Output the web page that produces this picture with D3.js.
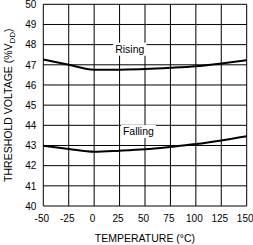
<!DOCTYPE html>
<html>
<head>
<meta charset="utf-8">
<script src="https://cdn.jsdelivr.net/npm/d3@7"></script>
<style>
  body { margin: 0; background: #fff; }
  svg { display: block; font-family: "Liberation Sans", Arial, sans-serif; }
  .tick text { font-size: 10px; fill: #000; }
  .lbl { font-size: 10.5px; fill: #000; }
</style>
</head>
<body>
<div id="chart"></div>
<script>
var temps = [-50, -25, 0, 25, 50, 75, 100, 125, 150];
var rising = [47.26, 47.0, 46.75, 46.76, 46.79, 46.85, 46.93, 47.07, 47.23];
var falling = [42.99, 42.83, 42.69, 42.74, 42.81, 42.93, 43.07, 43.25, 43.46];
var xTicks = [-50, -25, 0, 25, 50, 75, 100, 125, 150];
var yTicks = [40, 41, 42, 43, 44, 45, 46, 47, 48, 49, 50];
var labels = [
  { text: "Rising", t: 35, v: 47.6 },
  { text: "Falling", t: 43.5, v: 43.52 }
];

var width = 253, height = 245;
var margin = { top: 4.3, right: 6.3, bottom: 39, left: 43.3 };
var w = width - margin.left - margin.right;
var h = height - margin.top - margin.bottom;

var svg = d3.select("#chart").append("svg")
    .attr("width", width)
    .attr("height", height);

var g = svg.append("g")
    .attr("transform", "translate(" + margin.left + "," + margin.top + ")");

var x = d3.scaleLinear().domain([-50, 150]).range([0, w]);
var y = d3.scaleLinear().domain([40, 50]).range([h, 0]);

// grid
g.append("g").selectAll("line")
  .data(xTicks)
  .enter().append("line")
    .attr("x1", function(d) { return x(d); })
    .attr("x2", function(d) { return x(d); })
    .attr("y1", 0).attr("y2", h)
    .attr("stroke", "#000").attr("stroke-width", 1);

g.append("g").selectAll("line")
  .data(yTicks)
  .enter().append("line")
    .attr("x1", 0).attr("x2", w)
    .attr("y1", function(d) { return y(d); })
    .attr("y2", function(d) { return y(d); })
    .attr("stroke", "#000").attr("stroke-width", 1);

// axes (labels only), plain hyphen for negatives
var fmt = function(d) { return String(d); };

var xAxis = g.append("g")
    .attr("transform", "translate(0," + h + ")")
    .call(d3.axisBottom(x).tickValues(xTicks).tickSize(0).tickPadding(9).tickFormat(fmt));
xAxis.select(".domain").remove();
xAxis.selectAll(".tick text").attr("dx", -2);

var yAxis = g.append("g")
    .call(d3.axisLeft(y).tickValues(yTicks).tickSize(0).tickPadding(7).tickFormat(fmt));
yAxis.select(".domain").remove();

// curves
var line = d3.line()
    .x(function(d) { return x(d[0]); })
    .y(function(d) { return y(d[1]); })
    .curve(d3.curveMonotoneX);

[rising, falling].forEach(function(s) {
  g.append("path")
    .datum(temps.map(function(t, i) { return [t, s[i]]; }))
    .attr("fill", "none")
    .attr("stroke", "#000")
    .attr("stroke-width", 2)
    .attr("d", line);
});

// curve labels with white boxes
labels.forEach(function(l) {
  var t = g.append("text")
    .attr("class", "lbl")
    .attr("x", x(l.t))
    .attr("y", y(l.v))
    .attr("text-anchor", "middle")
    .text(l.text);
  var bb = t.node().getBBox();
  g.insert("rect", "text.lbl")
    .attr("x", bb.x - 2).attr("y", bb.y)
    .attr("width", bb.width + 4).attr("height", bb.height + 1)
    .attr("fill", "#fff");
});

// axis titles
svg.append("text")
  .attr("class", "lbl")
  .attr("x", margin.left + w / 2)
  .attr("y", 242)
  .attr("text-anchor", "middle")
  .text("TEMPERATURE (\u00B0C)");

var yt = svg.append("text")
  .attr("class", "lbl")
  .attr("transform", "translate(12," + (margin.top + h / 2) + ") rotate(-90)")
  .attr("text-anchor", "middle");
yt.append("tspan").text("THRESHOLD VOLTAGE (%V");
yt.append("tspan").attr("dy", 3).style("font-size", "8px").text("DD");
yt.append("tspan").attr("dy", -3).text(")");
</script>
</body>
</html>
